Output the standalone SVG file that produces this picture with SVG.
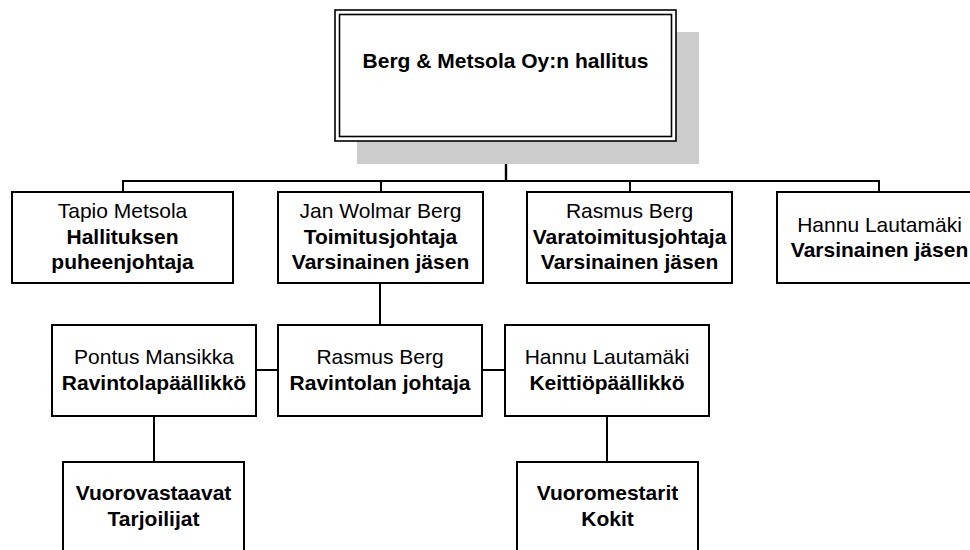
<svg xmlns="http://www.w3.org/2000/svg" width="970" height="550" viewBox="0 0 970 550">
<style>
.box{fill:#fff;stroke:#000;stroke-width:2}
.dbl{fill:#fff;stroke:#000;stroke-width:1.6}
.ln{fill:none;stroke:#000;stroke-width:2}
.shadow{fill:#cccccc}
text{font-family:"Liberation Sans",Arial,sans-serif;font-size:21px;fill:#000;text-anchor:middle}
.b{font-weight:bold}
</style>
<rect width="970" height="550" fill="#fff"/>
<g id="connectors">
<path class="ln" d="M506,141 V181" style="stroke-width:2.4"/>
<path class="ln" d="M123,192 V181 H879 V192"/>
<path class="ln" d="M381,181 V192"/>
<path class="ln" d="M630,181 V192"/>
<path class="ln" d="M380,283 V325"/>
<path class="ln" d="M256,370 H278"/>
<path class="ln" d="M482,370 H505"/>
<path class="ln" d="M154,416 V462"/>
<path class="ln" d="M607,416 V462"/>
</g>
<g id="board">
<rect class="shadow" x="357" y="32" width="342" height="132"/>
<rect class="dbl" x="335" y="10" width="341" height="131"/>
<rect class="dbl" x="339.5" y="14.5" width="332" height="122"/>
<text class="b" x="505.5" y="68">Berg &amp; Metsola Oy:n hallitus</text>
</g>
<g id="tapio">
<rect class="box" x="12" y="192" width="221" height="91"/>
<text x="122.5" y="218">Tapio Metsola</text>
<text class="b" x="122.5" y="244">Hallituksen</text>
<text class="b" x="122.5" y="269">puheenjohtaja</text>
</g>
<g id="jan">
<rect class="box" x="278" y="192" width="205" height="91"/>
<text x="380.5" y="218">Jan Wolmar Berg</text>
<text class="b" x="380.5" y="244">Toimitusjohtaja</text>
<text class="b" x="380.5" y="269">Varsinainen jäsen</text>
</g>
<g id="rasmus1">
<rect class="box" x="527" y="192" width="205" height="91"/>
<text x="629.5" y="218">Rasmus Berg</text>
<text class="b" x="629.5" y="244">Varatoimitusjohtaja</text>
<text class="b" x="629.5" y="269">Varsinainen jäsen</text>
</g>
<g id="hannu1">
<rect class="box" x="777" y="192" width="205" height="91"/>
<text x="879.5" y="232">Hannu Lautamäki</text>
<text class="b" x="879.5" y="257">Varsinainen jäsen</text>
</g>
<g id="pontus">
<rect class="box" x="52" y="325" width="204" height="91"/>
<text x="154" y="364">Pontus Mansikka</text>
<text class="b" x="154" y="390">Ravintolapäällikkö</text>
</g>
<g id="rasmus2">
<rect class="box" x="278" y="325" width="204" height="91"/>
<text x="380" y="364">Rasmus Berg</text>
<text class="b" x="380" y="390">Ravintolan johtaja</text>
</g>
<g id="hannu2">
<rect class="box" x="505" y="325" width="204" height="91"/>
<text x="607" y="364">Hannu Lautamäki</text>
<text class="b" x="607" y="390">Keittiöpäällikkö</text>
</g>
<g id="vuorovastaavat">
<rect class="box" x="63" y="462" width="181" height="110"/>
<text class="b" x="153.5" y="500">Vuorovastaavat</text>
<text class="b" x="153.5" y="526">Tarjoilijat</text>
</g>
<g id="vuoromestarit">
<rect class="box" x="517" y="462" width="181" height="110"/>
<text class="b" x="607.5" y="500">Vuoromestarit</text>
<text class="b" x="607.5" y="526">Kokit</text>
</g>
</svg>
